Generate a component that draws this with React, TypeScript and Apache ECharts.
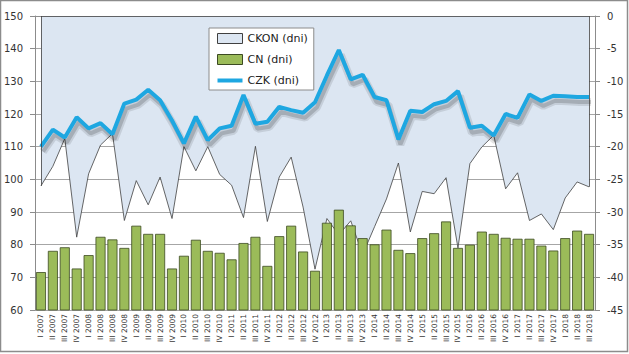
import React, { useEffect, useRef } from "react";
import * as echarts from "echarts";

const categories = [
  "I 2007", "II 2007", "III 2007", "IV 2007",
  "I 2008", "II 2008", "III 2008", "IV 2008",
  "I 2009", "II 2009", "III 2009", "IV 2009",
  "I 2010", "II 2010", "III 2010", "IV 2010",
  "I 2011", "II 2011", "III 2011", "IV 2011",
  "I 2012", "II 2012", "III 2012", "IV 2012",
  "I 2013", "II 2013", "III 2013", "IV 2013",
  "I 2014", "II 2014", "III 2014", "IV 2014",
  "I 2015", "II 2015", "III 2015", "IV 2015",
  "I 2016", "II 2016", "III 2016", "IV 2016",
  "I 2017", "II 2017", "III 2017", "IV 2017",
  "I 2018", "II 2018", "III 2018",
];

const ckon = [
  98, 104, 112.5, 82.3, 101.7, 110.5, 114, 87.4, 99.6, 92.2, 100.7, 88,
  110, 102.6, 110, 101.5, 98.2, 88.3, 110.1, 87.1, 100.7, 106.8, 91.5, 72.5,
  88, 83, 87.3, 77, 85.5, 94, 105, 83.9, 96.3, 95.6, 100.5, 79,
  104.8, 109.9, 113.5, 97.1, 102, 87.4, 89.4, 84.6, 94.3, 99.2, 97.7,
];

const cn = [
  71.6, 78.1, 79.2, 72.7, 76.8, 82.4, 81.6, 79.0, 85.8, 83.3, 83.3, 72.7,
  76.6, 81.5, 78.1, 77.5, 75.5, 80.5, 82.4, 73.5, 82.6, 85.8, 77.9, 72.0,
  86.7, 90.7, 85.9, 82.0, 80.1, 84.6, 78.4, 77.4, 82.0, 83.5, 87.1, 79.0,
  80.0, 84.0, 83.3, 82.1, 81.8, 81.8, 79.7, 78.2, 82.0, 84.3, 83.3,
];

const czk = [
  -20, -17.4, -18.6, -15.5, -17.2, -16.4, -18.1, -13.4, -12.8, -11.3, -12.9, -16.0,
  -19.5, -15.4, -19.0, -17.2, -16.8, -12.1, -16.5, -16.2, -13.9, -14.4, -14.8, -13.2,
  -9.1, -5.2, -9.7, -9.0, -12.4, -12.9, -18.9, -14.5, -14.7, -13.5, -13.0, -11.5,
  -17.1, -16.8, -18.3, -15.0, -15.6, -12.0, -13.0, -12.2, -12.3, -12.4, -12.4,
];

const leftAxisRange = [60, 150];
const leftAxisStep = 10;
const rightAxisRange = [-45, 0];
const rightAxisStep = 5;

const FONT = "DejaVu Sans";

export default function App() {
  const ref = useRef<HTMLDivElement>(null);

  useEffect(() => {
    if (!ref.current) return;
    const chart = echarts.init(ref.current, undefined, { renderer: "svg" });
    const last = categories.length - 1;
    const edgeStyle = { color: "#404040", width: 0.8, type: "solid" as const };
    const grid = { left: 35, right: 34, top: 16, bottom: 44 };
    const shadowDx = 2;
    const shadowDy = 5;

    chart.setOption({
      animation: false,
      backgroundColor: "#ffffff",
      grid: [
        grid,
        {
          left: grid.left + shadowDx,
          right: grid.right - shadowDx,
          top: grid.top + shadowDy,
          bottom: grid.bottom - shadowDy,
        },
      ],
      graphic: [
        {
          type: "rect",
          shape: { x: 0.5, y: 0.5, width: 627, height: 351 },
          style: { fill: "none", stroke: "#8c8c8c", lineWidth: 1.5 },
          silent: true,
          z: 100,
        },
      ],
      legend: {
        orient: "vertical",
        left: 209,
        top: 28,
        itemWidth: 25,
        itemHeight: 10,
        itemGap: 10,
        padding: [5, 6, 4, 8],
        borderColor: "#8c8c8c",
        borderWidth: 1,
        backgroundColor: "#ffffff",
        textStyle: { fontFamily: FONT, fontSize: 11, color: "#222" },
        data: [
          {
            name: "CKON (dni)",
            icon: "rect",
            itemStyle: { color: "#dce6f2", borderColor: "#404040", borderWidth: 1 },
          },
          {
            name: "CN (dni)",
            icon: "rect",
            itemStyle: { color: "#9bbb59", borderColor: "#3c4a22", borderWidth: 1 },
          },
          {
            name: "CZK (dni)",
            icon: "path://M0,0 L25,0 L25,4 L0,4 Z",
            itemStyle: { color: "#1ea7e1", borderWidth: 0 },
          },
        ],
      },
      xAxis: [
        {
          type: "category",
          gridIndex: 0,
          data: categories,
          boundaryGap: true,
          axisLine: { lineStyle: { color: "#8c8c8c" } },
          axisTick: { show: true, length: 4, lineStyle: { color: "#8c8c8c" } },
          axisLabel: {
            rotate: 90,
            interval: 0,
            margin: 4,
            fontFamily: FONT,
            fontSize: 7.5,
            color: "#333",
          },
        },
        {
          type: "category",
          gridIndex: 1,
          data: categories,
          boundaryGap: true,
          show: false,
        },
      ],
      yAxis: [
        {
          type: "value",
          gridIndex: 0,
          min: leftAxisRange[0],
          max: leftAxisRange[1],
          interval: leftAxisStep,
          position: "left",
          axisLine: { show: true, lineStyle: { color: "#8c8c8c" } },
          axisTick: { show: true, length: 5, lineStyle: { color: "#8c8c8c" } },
          axisLabel: { margin: 12, fontFamily: FONT, fontSize: 10, color: "#333" },
          splitLine: { show: true, lineStyle: { color: "#a6a6a6", width: 1 } },
        },
        {
          type: "value",
          gridIndex: 0,
          min: rightAxisRange[0],
          max: rightAxisRange[1],
          interval: rightAxisStep,
          position: "right",
          axisLine: { show: true, lineStyle: { color: "#8c8c8c" } },
          axisTick: { show: true, length: 5, lineStyle: { color: "#8c8c8c" } },
          axisLabel: { margin: 12, fontFamily: FONT, fontSize: 10, color: "#333" },
          splitLine: { show: false },
        },
        {
          type: "value",
          gridIndex: 1,
          min: rightAxisRange[0],
          max: rightAxisRange[1],
          interval: rightAxisStep,
          show: false,
          splitLine: { show: false },
        },
      ],
      series: [
        {
          name: "CKON (dni)",
          type: "line",
          xAxisIndex: 0,
          yAxisIndex: 0,
          data: ckon,
          symbol: "none",
          z: 1,
          itemStyle: { color: "#dce6f2" },
          lineStyle: { color: "#404040", width: 0.8 },
          areaStyle: { color: "#dce6f2", origin: "end", opacity: 1 },
          markLine: {
            silent: true,
            symbol: ["none", "none"],
            label: { show: false },
            lineStyle: edgeStyle,
            data: [
              [{ coord: [0, leftAxisRange[1]] }, { coord: [0, ckon[0]] }],
              [{ coord: [last, leftAxisRange[1]] }, { coord: [last, ckon[last]] }],
              [{ coord: [0, leftAxisRange[1]] }, { coord: [last, leftAxisRange[1]] }],
            ],
          },
        },
        {
          name: "CN (dni)",
          type: "bar",
          xAxisIndex: 0,
          yAxisIndex: 0,
          data: cn,
          barWidth: "84%",
          z: 2,
          itemStyle: { color: "#9bbb59", borderColor: "#3c4a22", borderWidth: 0.8 },
        },
        {
          name: "czk-shadow-outer",
          type: "line",
          xAxisIndex: 1,
          yAxisIndex: 2,
          data: czk,
          symbol: "none",
          silent: true,
          z: 3,
          lineStyle: { color: "rgba(0,0,0,0.10)", width: 8 },
        },
        {
          name: "czk-shadow-inner",
          type: "line",
          xAxisIndex: 1,
          yAxisIndex: 2,
          data: czk,
          symbol: "none",
          silent: true,
          z: 3,
          lineStyle: { color: "rgba(0,0,0,0.16)", width: 4 },
        },
        {
          name: "CZK (dni)",
          type: "line",
          xAxisIndex: 0,
          yAxisIndex: 1,
          data: czk,
          symbol: "none",
          z: 4,
          itemStyle: { color: "#1ea7e1" },
          lineStyle: { color: "#1ea7e1", width: 4 },
        },
      ],
    });

    return () => chart.dispose();
  }, []);

  return (
    <div
      ref={ref}
      style={{ position: "absolute", left: 0, top: 0, width: 629, height: 354 }}
    />
  );
}
